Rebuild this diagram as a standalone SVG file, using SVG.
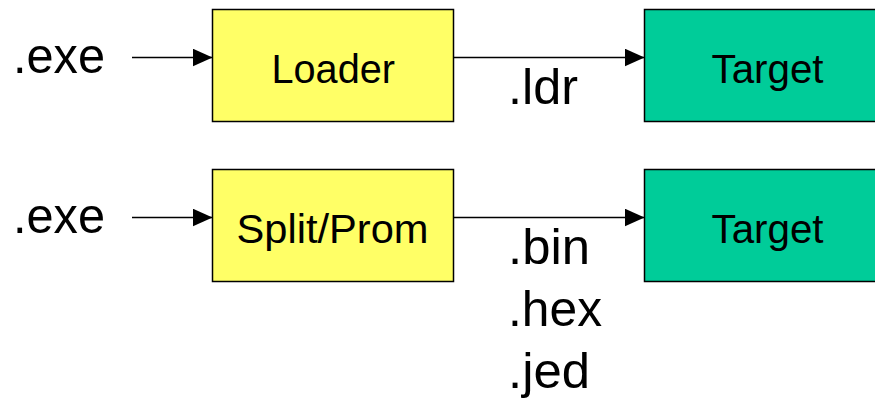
<svg xmlns="http://www.w3.org/2000/svg" width="875" height="403" viewBox="0 0 875 403">
  <style>
    .box { stroke: #000; stroke-width: 1.5; }
    .tool { fill: #FFFF66; }
    .target { fill: #00CC99; }
    .wire { stroke: #000; stroke-width: 1.5; fill: none; }
    .name { font-family: "Liberation Sans", Arial, sans-serif; font-size: 41px; fill: #000; }
    .ext { font-family: "Liberation Sans", Arial, sans-serif; font-size: 50px; fill: #000; }
  </style>
  <defs>
    <marker id="arrow" markerUnits="userSpaceOnUse" markerWidth="20" markerHeight="18" refX="20" refY="9" orient="auto">
      <path d="M0,0 L20,9 L0,18 Z" fill="#000"/>
    </marker>
  </defs>
  <rect width="875" height="403" fill="#fff"/>

  <!-- connectors -->
  <g id="connectors">
    <line class="wire" x1="132" y1="57.5" x2="212.5" y2="57.5" marker-end="url(#arrow)"/>
    <line class="wire" x1="453.5" y1="57.5" x2="644.5" y2="57.5" marker-end="url(#arrow)"/>
    <line class="wire" x1="132" y1="217.5" x2="212.5" y2="217.5" marker-end="url(#arrow)"/>
    <line class="wire" x1="453.5" y1="217.5" x2="644.5" y2="217.5" marker-end="url(#arrow)"/>
  </g>

  <!-- file type labels -->
  <g id="labels">
    <text class="ext" x="13" y="72.5" textLength="92" lengthAdjust="spacingAndGlyphs">.exe</text>
    <text class="ext" x="13" y="232.5" textLength="92" lengthAdjust="spacingAndGlyphs">.exe</text>
    <text class="ext" x="508" y="103.5" textLength="70" lengthAdjust="spacingAndGlyphs">.ldr</text>
    <text class="ext" x="508" y="263.5" textLength="82" lengthAdjust="spacingAndGlyphs">.bin</text>
    <text class="ext" x="508" y="325.5" textLength="94" lengthAdjust="spacingAndGlyphs">.hex</text>
    <text class="ext" x="508" y="387.5" textLength="82" lengthAdjust="spacingAndGlyphs">.jed</text>
  </g>

  <g id="loader">
    <rect class="box tool" x="212.5" y="9.5" width="241" height="112"/>
    <text class="name" x="271.5" y="83" textLength="123.5" lengthAdjust="spacingAndGlyphs">Loader</text>
  </g>
  <g id="target1">
    <rect class="box target" x="644.5" y="9.5" width="250" height="112"/>
    <text class="name" x="711.5" y="83" textLength="112" lengthAdjust="spacingAndGlyphs">Target</text>
  </g>
  <g id="splitprom">
    <rect class="box tool" x="212.5" y="169.5" width="241" height="112"/>
    <text class="name" x="236.5" y="243" textLength="192" lengthAdjust="spacingAndGlyphs">Split/Prom</text>
  </g>
  <g id="target2">
    <rect class="box target" x="644.5" y="169.5" width="250" height="112"/>
    <text class="name" x="711.5" y="243" textLength="112" lengthAdjust="spacingAndGlyphs">Target</text>
  </g>
</svg>
